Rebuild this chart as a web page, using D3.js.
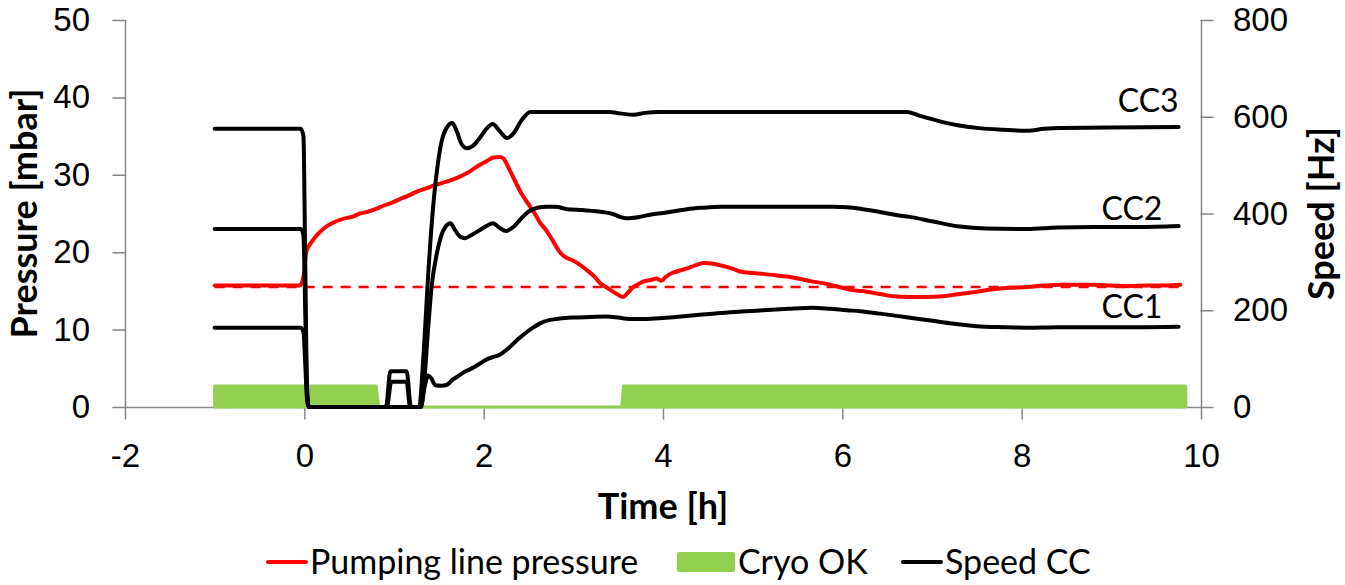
<!DOCTYPE html>
<html>
<head>
<meta charset="utf-8">
<script src="https://cdn.jsdelivr.net/npm/d3@7"></script>
<style>
  html, body { margin: 0; padding: 0; background: #fff; }
  svg { display: block; font-family: Lato, 'Open Sans', sans-serif; }
  .axis text { font-size: 33px; fill: #000; }
  .axis line, .axis path { stroke: #868686; stroke-width: 1.5; }
  .title { font-size: 36px; font-weight: bold; }
  .legend text { font-size: 34px; }
  .cc-label { font-size: 32px; }
</style>
</head>
<body>
<div id="chart"></div>
<script>
// time in hours, pressure in mbar, speed in Hz
const pressure = [
  [-1, 15.7], [-0.05, 15.7], [0.0, 17.5], [0.02, 20.0], [0.08, 21.3], [0.14, 22.2],
  [0.22, 23.1], [0.32, 23.8], [0.43, 24.3], [0.54, 24.6], [0.62, 25.0], [0.70, 25.2],
  [0.80, 25.6], [0.88, 26.0], [0.98, 26.4], [1.07, 26.9], [1.16, 27.3], [1.25, 27.8],
  [1.35, 28.2], [1.44, 28.6], [1.55, 29.0], [1.66, 29.4], [1.74, 29.8], [1.81, 30.2],
  [1.88, 30.7], [1.96, 31.3], [2.04, 31.8], [2.10, 32.2], [2.18, 32.3], [2.22, 32.1],
  [2.29, 30.6], [2.35, 29.2], [2.42, 27.6], [2.50, 26.2], [2.57, 25.0], [2.63, 23.8],
  [2.70, 22.8], [2.77, 21.5], [2.85, 20.0], [2.92, 19.3], [3.00, 18.9], [3.07, 18.4],
  [3.15, 17.7], [3.23, 16.9], [3.30, 16.0], [3.38, 15.4], [3.44, 14.9], [3.50, 14.5],
  [3.55, 14.2], [3.61, 14.8], [3.67, 15.5], [3.73, 15.9], [3.78, 16.2], [3.86, 16.4],
  [3.93, 16.6], [3.98, 16.3], [4.03, 16.8], [4.08, 17.2], [4.18, 17.6], [4.27, 17.9],
  [4.36, 18.3], [4.45, 18.6], [4.56, 18.5], [4.64, 18.3], [4.71, 18.1], [4.79, 17.8],
  [4.86, 17.5], [5.00, 17.3], [5.12, 17.2], [5.27, 17.0], [5.42, 16.8], [5.55, 16.5],
  [5.67, 16.2], [5.78, 16.0], [5.86, 15.8], [6.00, 15.4], [6.12, 15.1], [6.27, 14.9],
  [6.42, 14.6], [6.57, 14.3], [6.75, 14.2], [6.94, 14.2], [7.12, 14.3], [7.31, 14.6],
  [7.50, 14.9], [7.68, 15.2], [7.87, 15.4], [8.06, 15.5], [8.25, 15.7], [8.43, 15.8],
  [8.80, 15.8], [9.00, 15.7], [9.17, 15.6], [9.40, 15.7], [9.60, 15.7], [9.77, 15.8],
];

const pressureSetpoint = [[-1, 15.5], [9.77, 15.5]];

const cryoOk = [
  [-1, 2.7], [0.80, 2.7], [0.83, 0], [3.54, 0], [3.56, 2.7], [9.83, 2.7],
];

const speedCC3 = [
  [-1, 575], [-0.04, 575], [-0.01, 560], [0.01, 300], [0.03, 40], [0.05, 0],
  [0.91, 0], [0.96, 74], [1.14, 74], [1.19, 0], [1.28, 0], [1.33, 110],
  [1.38, 270], [1.43, 400], [1.48, 490], [1.53, 548], [1.59, 578], [1.65, 587],
  [1.70, 570], [1.75, 545], [1.81, 535], [1.88, 540], [1.96, 557], [2.03, 575],
  [2.10, 585], [2.18, 570], [2.26, 556], [2.33, 565], [2.42, 592], [2.52, 610],
  [3.00, 610], [3.40, 610], [3.52, 607], [3.67, 604], [3.80, 608], [3.95, 610],
  [4.50, 610], [5.50, 610], [6.72, 610], [6.85, 603], [7.00, 595], [7.12, 589],
  [7.30, 582], [7.50, 577], [7.80, 573], [8.06, 571], [8.25, 575], [8.43, 577],
  [9.00, 578], [9.75, 579],
];

const speedCC2 = [
  [-1, 368], [-0.04, 368], [-0.01, 355], [0.01, 200], [0.03, 30], [0.05, 0],
  [0.92, 0], [0.97, 52], [1.14, 52], [1.18, 0], [1.30, 0], [1.34, 60],
  [1.38, 160], [1.42, 250], [1.47, 310], [1.52, 350], [1.58, 374], [1.63, 380],
  [1.68, 366], [1.74, 352], [1.79, 349], [1.86, 355], [1.96, 366], [2.03, 374],
  [2.10, 380], [2.18, 370], [2.25, 364], [2.33, 372], [2.42, 390], [2.50, 404],
  [2.60, 412], [2.70, 414], [2.80, 414], [2.93, 409], [3.10, 407], [3.33, 403],
  [3.44, 399], [3.52, 393], [3.59, 390], [3.74, 393], [3.87, 398], [4.00, 401],
  [4.14, 405], [4.27, 409], [4.45, 412], [4.64, 414], [5.30, 414], [5.90, 414],
  [6.05, 413], [6.20, 410], [6.42, 403], [6.60, 397], [6.75, 393], [7.00, 384],
  [7.31, 373], [7.60, 369], [8.06, 368], [8.40, 371], [8.80, 372], [9.30, 372],
  [9.75, 374],
];

const speedCC1 = [
  [-1, 164], [-0.04, 164], [-0.01, 155], [0.01, 90], [0.03, 15], [0.05, 0],
  [1.30, 0], [1.34, 40], [1.38, 65], [1.42, 58], [1.46, 45], [1.53, 44],
  [1.59, 46], [1.65, 56], [1.70, 62], [1.78, 72], [1.88, 81], [1.96, 90],
  [2.04, 99], [2.12, 104], [2.18, 108], [2.28, 122], [2.37, 138], [2.46, 152],
  [2.55, 164], [2.64, 174], [2.74, 180], [2.85, 183], [3.00, 185], [3.19, 186],
  [3.37, 187], [3.50, 185], [3.63, 182], [3.80, 182], [4.00, 184], [4.20, 187],
  [4.38, 190], [4.56, 193], [4.75, 196], [4.93, 198], [5.12, 200], [5.40, 203],
  [5.67, 205], [5.86, 203], [6.05, 200], [6.20, 198], [6.42, 193], [6.70, 186],
  [6.94, 180], [7.20, 173], [7.50, 167], [7.80, 165], [8.06, 164], [8.40, 165],
  [8.80, 165], [9.30, 165], [9.75, 166],
];

const speedSeries = [
  { name: 'CC3', values: speedCC3, label: [9.75, 610] },
  { name: 'CC2', values: speedCC2, label: [9.57, 386] },
  { name: 'CC1', values: speedCC1, label: [9.57, 184] },
];

const timeTicks = [-2, 0, 2, 4, 6, 8, 10];
const pressureTicks = [0, 10, 20, 30, 40, 50];
const speedTicks = [0, 200, 400, 600, 800];

const legendItems = [
  { name: 'Pumping line pressure', type: 'line', color: '#ff0000' },
  { name: 'Cryo OK', type: 'rect', color: '#92d050' },
  { name: 'Speed CC', type: 'line', color: '#000' },
];

const width = 1345;
const height = 585;
const margin = { top: 20, right: 144, bottom: 178, left: 125 };

const svg = d3.select('#chart')
  .append('svg')
  .attr('width', width)
  .attr('height', height)
  .attr('stroke-linejoin', 'round')
  .attr('stroke-linecap', 'round');

const x = d3.scaleLinear()
  .domain([-2, 10])
  .range([margin.left, width - margin.right]);

const yLeft = d3.scaleLinear()
  .domain([0, 50])
  .range([height - margin.bottom, margin.top]);

const yRight = d3.scaleLinear()
  .domain([0, 800])
  .range([height - margin.bottom, margin.top]);

// axes
svg.append('g')
  .attr('class', 'axis axis-x')
  .attr('transform', `translate(0,${yLeft(0)})`)
  .call(d3.axisBottom(x).tickValues(timeTicks).tickSize(12).tickSizeOuter(0).tickPadding(25));

svg.append('g')
  .attr('class', 'axis axis-y')
  .attr('transform', `translate(${x(-2)},0)`)
  .call(d3.axisLeft(yLeft).tickValues(pressureTicks).tickSize(12).tickSizeOuter(0).tickPadding(23));

svg.append('g')
  .attr('class', 'axis axis-y2')
  .attr('transform', `translate(${x(10)},0)`)
  .call(d3.axisRight(yRight).tickValues(speedTicks).tickSize(12).tickSizeOuter(0).tickPadding(20));

svg.selectAll('.axis text').attr('fill', '#000');
svg.selectAll('.axis-x text').text((d) => (d < 0 ? `-${-d}` : d));

// axis titles
svg.append('text')
  .attr('class', 'title')
  .attr('x', x(4))
  .attr('y', 519)
  .attr('text-anchor', 'middle')
  .text('Time [h]');

svg.append('text')
  .attr('class', 'title')
  .attr('transform', `translate(37,${yLeft(25)}) rotate(-90)`)
  .attr('text-anchor', 'middle')
  .text('Pressure [mbar]');

svg.append('text')
  .attr('class', 'title')
  .attr('transform', `translate(1334,${yRight(400)}) rotate(-90)`)
  .attr('text-anchor', 'middle')
  .text('Speed [Hz]');

// series
const cryoArea = d3.area()
  .x((d) => x(d[0]))
  .y0(yLeft(0))
  .y1((d) => yLeft(d[1]));

svg.append('path')
  .attr('class', 'cryo')
  .attr('fill', '#92d050')
  .attr('stroke', '#92d050')
  .attr('stroke-width', 3)
  .attr('d', cryoArea(cryoOk));

const pressureLine = d3.line()
  .x((d) => x(d[0]))
  .y((d) => yLeft(d[1]))
  .curve(d3.curveMonotoneX);

svg.append('path')
  .attr('fill', 'none')
  .attr('stroke', '#ff0000')
  .attr('stroke-width', 2.5)
  .attr('stroke-linecap', 'butt')
  .attr('stroke-dasharray', '10,8')
  .attr('d', pressureLine(pressureSetpoint));

svg.append('path')
  .attr('fill', 'none')
  .attr('stroke', '#ff0000')
  .attr('stroke-width', 4)
  .attr('d', pressureLine(pressure));

const speedLine = d3.line()
  .x((d) => x(d[0]))
  .y((d) => yRight(d[1]))
  .curve(d3.curveMonotoneX);

svg.append('g')
  .attr('class', 'g-speed')
  .selectAll('path')
  .data(speedSeries)
  .join('path')
  .attr('fill', 'none')
  .attr('stroke', '#000')
  .attr('stroke-width', 4)
  .attr('d', (d) => speedLine(d.values));

svg.append('g')
  .selectAll('text')
  .data(speedSeries)
  .join('text')
  .attr('class', 'cc-label')
  .attr('x', (d) => x(d.label[0]))
  .attr('y', (d) => yRight(d.label[1]))
  .attr('text-anchor', 'end')
  .text((d) => d.name);

// legend
const legendX = [268, 677, 903];
const legend = svg.append('g')
  .attr('class', 'legend')
  .selectAll('g')
  .data(legendItems)
  .join('g')
  .attr('transform', (d, i) => `translate(${legendX[i]},562)`);

legend.filter((d) => d.type === 'line')
  .append('line')
  .attr('x1', 0)
  .attr('x2', 38)
  .attr('stroke', (d) => d.color)
  .attr('stroke-width', 4);

legend.filter((d) => d.type === 'rect')
  .append('rect')
  .attr('y', -10)
  .attr('width', 58)
  .attr('height', 20)
  .attr('rx', 2)
  .attr('fill', (d) => d.color);

legend.append('text')
  .attr('x', (d) => (d.type === 'rect' ? 61 : 42))
  .attr('y', 12)
  .text((d) => d.name);
</script>
</body>
</html>
